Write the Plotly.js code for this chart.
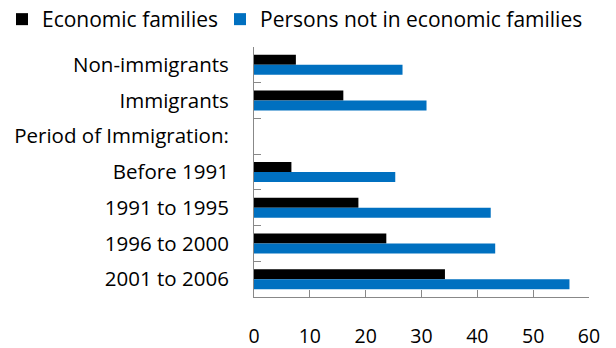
<!DOCTYPE html>
<html>
<head>
<meta charset="utf-8">
<script src="https://cdn.plot.ly/plotly-3.0.1.min.js"></script>
<style>html,body{margin:0;padding:0;background:#fff;}#chart{width:616px;height:348px;}</style>
</head>
<body>
<div id="chart"></div>
<script>
const categories = ["Non-immigrants", "Immigrants", "Period of Immigration:", "Before 1991", "1991 to 1995", "1996 to 2000", "2001 to 2006"];
const economicFamilies = [7.5, 16.0, null, 6.7, 18.7, 23.7, 34.2];
const personsNotInEconomicFamilies = [26.6, 30.9, null, 25.3, 42.4, 43.2, 56.5];
const xTickValues = [0, 10, 20, 30, 40, 50, 60];

const fam = "'Open Sans', sans-serif";
const yFont = {family: fam, size: 20.5, color: "#000"};
const xFont = {family: fam, size: 19.5, color: "#000"};
const legFont = {family: fam, size: 21, color: "#000"};

const W = 616, H = 348;
const M = {l: 254, r: 27, t: 47, b: 51};
const plotW = W - M.l - M.r, plotH = H - M.t - M.b;

const traces = [
  {type: "bar", orientation: "h", name: "Economic families", y: categories, x: economicFamilies,
   marker: {color: "#000000"}, hoverinfo: "x+y", legend: "legend"},
  {type: "bar", orientation: "h", name: "Persons not in economic families", y: categories, x: personsNotInEconomicFamilies,
   marker: {color: "#0070c0"}, hoverinfo: "x+y", legend: "legend2"}
];

function legendAt(px) {
  return {orientation: "h", xref: "paper", yref: "paper",
          x: (px - M.l) / plotW, xanchor: "left", y: 1 + (M.t + 1) / plotH, yanchor: "top",
          font: legFont, itemwidth: 30, tracegroupgap: 0, bgcolor: "rgba(0,0,0,0)"};
}

const layout = {
  width: W, height: H,
  margin: {l: M.l, r: M.r, t: M.t, b: M.b, autoexpand: false},
  paper_bgcolor: "#fff", plot_bgcolor: "#fff",
  font: yFont,
  barmode: "group", bargap: 0.44, bargroupgap: 0,
  showlegend: true,
  legend: legendAt(2),
  legend2: legendAt(220),
  xaxis: {range: [0, 60], tickvals: xTickValues, ticks: "inside", ticklen: 7, tickcolor: "#888", tickwidth: 1,
          showline: true, linecolor: "#888", linewidth: 1, showgrid: false, zeroline: false,
          ticklabelstandoff: 22, tickfont: xFont, fixedrange: true},
  yaxis: {type: "category", autorange: "reversed", ticks: "inside", tickson: "boundaries", ticklen: 7,
          tickcolor: "#888", tickwidth: 1, showline: true, linecolor: "#888", linewidth: 1, showgrid: false,
          ticklabelstandoff: 20, tickfont: yFont, fixedrange: true}
};

Plotly.newPlot("chart", traces, layout, {displayModeBar: false, staticPlot: true});
</script>
</body>
</html>
